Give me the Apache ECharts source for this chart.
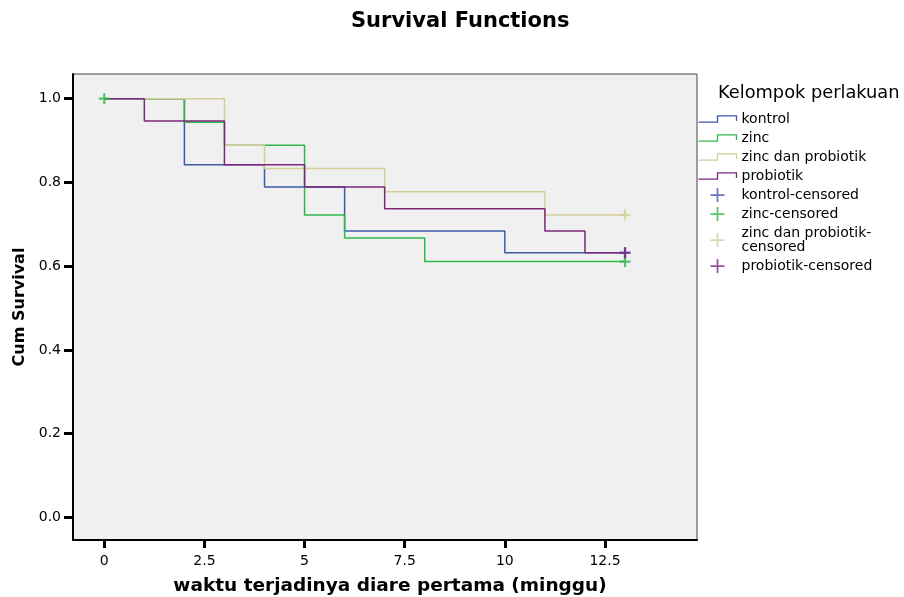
<!DOCTYPE html>
<html>
<head>
<meta charset="utf-8">
<script src="https://cdn.jsdelivr.net/npm/echarts@6/dist/echarts.min.js"></script>
<style>html,body{margin:0;padding:0;background:#fff;}#chart{width:904px;height:597px;}</style>
</head>
<body>
<div id="chart"></div>
<script>
// ---- data ----
const groupNames = ['kontrol', 'zinc', 'zinc dan probiotik', 'probiotik'];
const censorNames = ['kontrol-censored', 'zinc-censored', 'zinc dan probiotik-censored', 'probiotik-censored'];
const censorLegendLabels = ['kontrol-censored', 'zinc-censored', 'zinc dan probiotik-\ncensored', 'probiotik-censored'];

const kontrolTimes = [0, 2, 4, 6, 10, 13];
const kontrolSurv  = [1.0, 0.842, 0.789, 0.684, 0.632, 0.632];
const zincTimes    = [0, 2, 3, 5, 6, 8, 13];
const zincSurv     = [1.0, 0.944, 0.889, 0.722, 0.667, 0.611, 0.611];
const zdpTimes     = [0, 3, 4, 7, 11, 13];
const zdpSurv      = [1.0, 0.889, 0.833, 0.778, 0.722, 0.722];
const probTimes    = [0, 1, 3, 5, 7, 11, 12, 13];
const probSurv     = [1.0, 0.947, 0.842, 0.789, 0.737, 0.684, 0.632, 0.632];

const kontrolCensTimes = [13];  const kontrolCensSurv = [0.632];
const zincCensTimes    = [0, 13]; const zincCensSurv  = [1.0, 0.611];
const zdpCensTimes     = [13];  const zdpCensSurv     = [0.722];
const probCensTimes    = [13];  const probCensSurv    = [0.632];

const xTicks = [0, 2.5, 5, 7.5, 10, 12.5];
const yTicks = [0, 0.2, 0.4, 0.6, 0.8, 1.0];

// ---- styling ----
const colors = ['#3E58AC', '#2EB848', '#D3CE97', '#7C287D'];
const FONT = 'DejaVu Sans';
const stepIcon = 'path://M0,7L18,7L18,1L36,1L36,6';
function plusPath(a) { // filled plus, 12x12 box, arm thickness a
  const l = 6 - a / 2, h = 6 + a / 2;
  return 'path://M0,' + l + 'L' + l + ',' + l + 'L' + l + ',0L' + h + ',0L' + h + ',' + l +
    'L12,' + l + 'L12,' + h + 'L' + h + ',' + h + 'L' + h + ',12L' + l + ',12L' + l + ',' + h +
    'L0,' + h + 'Z';
}
const plusMarker = plusPath(2.4);
const plusLegend = plusPath(1.5);

const pair = (xs, ys) => xs.map((x, i) => [x, ys[i]]);
const lineSets = [pair(kontrolTimes, kontrolSurv), pair(zincTimes, zincSurv), pair(zdpTimes, zdpSurv), pair(probTimes, probSurv)];
const censSets = [pair(kontrolCensTimes, kontrolCensSurv), pair(zincCensTimes, zincCensSurv), pair(zdpCensTimes, zdpCensSurv), pair(probCensTimes, probCensSurv)];

const series = [];
groupNames.forEach((n, i) => {
  series.push({
    name: n, type: 'line', step: 'end', data: lineSets[i], showSymbol: false, symbol: 'none',
    lineStyle: { color: colors[i], width: 1.5 }, itemStyle: { color: colors[i] }, z: 2 + i
  });
});
censorNames.forEach((n, i) => {
  series.push({
    name: n, type: 'scatter', data: censSets[i], symbol: plusMarker, symbolSize: 11,
    itemStyle: { color: colors[i] }, z: 10 + i
  });
});

const legendData = [];
groupNames.forEach((n, i) => legendData.push({ name: n, icon: stepIcon,
  itemStyle: { color: 'none', borderColor: colors[i], borderWidth: 1.3 } }));
censorNames.forEach((n, i) => legendData.push({ name: n, icon: plusLegend,
  itemStyle: { color: colors[i], borderWidth: 0 } }));

const chart = echarts.init(document.getElementById('chart'));
chart.setOption({
  animation: false,
  backgroundColor: '#ffffff',
  title: [
    { text: 'Survival Functions', left: 351, top: 11, padding: 0,
      textStyle: { fontFamily: FONT, fontSize: 21, fontWeight: 'bold', color: '#000' } },
    { text: 'Kelompok perlakuan', left: 718, top: 84, padding: 0,
      textStyle: { fontFamily: FONT, fontSize: 17.8, fontWeight: 'normal', color: '#000' } }
  ],
  legend: {
    orient: 'vertical', left: 696, top: 112, padding: 0,
    itemWidth: 38, itemHeight: 14, itemGap: 5, selectedMode: false,
    data: legendData,
    formatter: name => { const k = censorNames.indexOf(name); return k >= 0 ? censorLegendLabels[k] : name; },
    textStyle: { fontFamily: FONT, fontSize: 14, lineHeight: 14, color: '#000' }
  },
  grid: { left: 73, top: 74, right: 207, bottom: 57, show: true, outerBoundsMode: 'none',
    containLabel: false,
    backgroundColor: '#f0f0f0', borderColor: '#444', borderWidth: 1 },
  xAxis: {
    type: 'value', min: -0.781, max: 14.797,
    name: 'waktu terjadinya diare pertama (minggu)', nameLocation: 'middle', nameGap: 37,
    nameTextStyle: { fontFamily: FONT, fontSize: 18.5, fontWeight: 'bold', color: '#000', padding: [0, 0, 0, 10] },
    axisLine: { show: true, onZero: false, lineStyle: { color: '#000', width: 2 } },
    axisTick: { show: true, inside: false, length: 8, customValues: xTicks, lineStyle: { color: '#000', width: 3 } },
    axisLabel: { customValues: xTicks, margin: 14, fontFamily: FONT, fontSize: 14, color: '#000',
      formatter: v => String(v) },
    splitLine: { show: false }
  },
  yAxis: {
    type: 'value', min: -0.0542, max: 1.059,
    name: 'Cum Survival', nameLocation: 'middle', nameGap: 35,
    nameTextStyle: { fontFamily: FONT, fontSize: 16, fontWeight: 'bold', color: '#000' },
    axisLine: { show: true, onZero: false, lineStyle: { color: '#000', width: 2 } },
    axisTick: { show: true, inside: false, length: 9, customValues: yTicks, lineStyle: { color: '#000', width: 3 } },
    axisLabel: { customValues: yTicks, margin: 12, fontFamily: FONT, fontSize: 14, color: '#000',
      formatter: v => v.toFixed(1) },
    splitLine: { show: false }
  },
  series: series
});
</script>
</body>
</html>
